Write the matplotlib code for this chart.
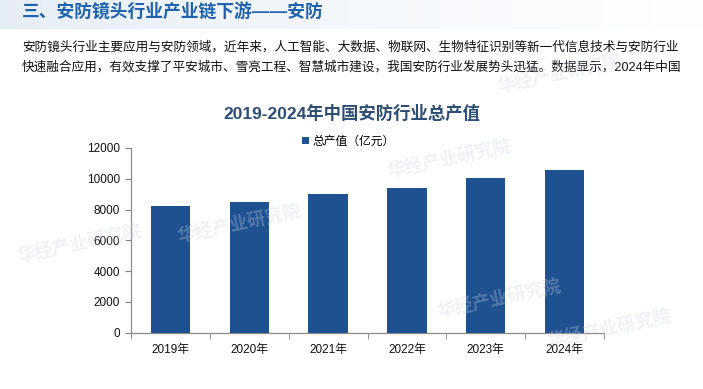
import numpy as np
import matplotlib.pyplot as plt

plt.rcParams['font.family'] = ['Liberation Sans', 'Noto Sans CJK SC', 'DejaVu Sans']

# data
years = ['2019年', '2020年', '2021年', '2022年', '2023年', '2024年']
output_value = [8260, 8500, 9010, 9400, 10050, 10570]
y_ticks = [0, 2000, 4000, 6000, 8000, 10000, 12000]

header = '三、安防镜头行业产业链下游——安防'
para_lines = [
    '安防镜头行业主要应用与安防领域，近年来，人工智能、大数据、物联网、生物特征识别等新一代信息技术与安防行业',
    '快速融合应用，有效支撑了平安城市、雪亮工程、智慧城市建设，我国安防行业发展势头迅猛。数据显示，2024年中国',
]
chart_title = '2019-2024年中国安防行业总产值'
legend_label = '总产值（亿元）'

W, H = 703, 389
fig = plt.figure(figsize=(W / 100, H / 100), dpi=100)

# header band with soft gradient
band = fig.add_axes([0, 1 - 29 / H, 1, 29 / H])
grad = np.linspace(0, 1, 256).reshape(1, -1)
c0 = np.array([0.90, 0.93, 0.97])
c1 = np.array([1.0, 1.0, 1.0])
img = c0 + (c1 - c0) * grad[..., None] ** 0.8
band.imshow(img, aspect='auto', extent=[0, 1, 0, 1])
band.axis('off')

fig.text(22 / W, 1 - 13 / H, header, fontsize=12.8, fontweight='bold',
         color='#1f62ad', va='center', ha='left')
fig.text(22 / W, 1 - 47 / H, para_lines[0], fontsize=9.1, color='#111111',
         va='center', ha='left')
fig.text(22 / W, 1 - 67 / H, para_lines[1], fontsize=9.1, color='#111111',
         va='center', ha='left')

# faint watermarks
for (wx, wy) in [(450, 160), (240, 225), (500, 300), (80, 245), (610, 330), (560, 75)]:
    fig.text(wx / W, 1 - wy / H, '华经产业研究院', fontsize=13, fontweight='bold',
             color='#c9d3e0', alpha=0.3, rotation=12, ha='center', va='center')

# chart
ax = fig.add_axes([131 / W, 1 - 332.7 / H, (604 - 131) / W, (332.7 - 148) / H])
ax.patch.set_alpha(0)
x = np.arange(len(years))
ax.bar(x, output_value, width=0.5, color='#1f5191', zorder=3, label=legend_label)
ax.set_xlim(-0.5, len(years) - 0.5)
ax.set_ylim(0, 12000)
ax.set_yticks(y_ticks)
ax.set_yticklabels([str(v) for v in y_ticks], fontsize=8.5, color='#111111')
ax.set_xticks(x)
ax.set_xticklabels(years, fontsize=8.5, color='#111111')
ax.set_xticks(np.arange(len(years) + 1) - 0.5, minor=True)
ax.tick_params(axis='x', which='major', length=0, pad=8)
ax.tick_params(axis='x', which='minor', length=4, color='#808080', direction='out')
ax.tick_params(axis='y', length=4, color='#808080', direction='out', pad=4)
for s in ['top', 'right']:
    ax.spines[s].set_visible(False)
for s in ['left', 'bottom']:
    ax.spines[s].set_color('#8c8c8c')
    ax.spines[s].set_linewidth(0.9)

fig.text(352 / W, 1 - 113 / H, chart_title, fontsize=12.5, fontweight='bold',
         color='#2d4d74', ha='center', va='center')
ax.legend(loc='center left', bbox_to_anchor=((302 - 131) / (604 - 131), 1 + (148 - 141.7) / 184.7),
          frameon=False, fontsize=8.5, handlelength=0.6, handleheight=0.6,
          handletextpad=0.3, borderaxespad=0, borderpad=0)

fig.savefig('out.png', dpi=100)
